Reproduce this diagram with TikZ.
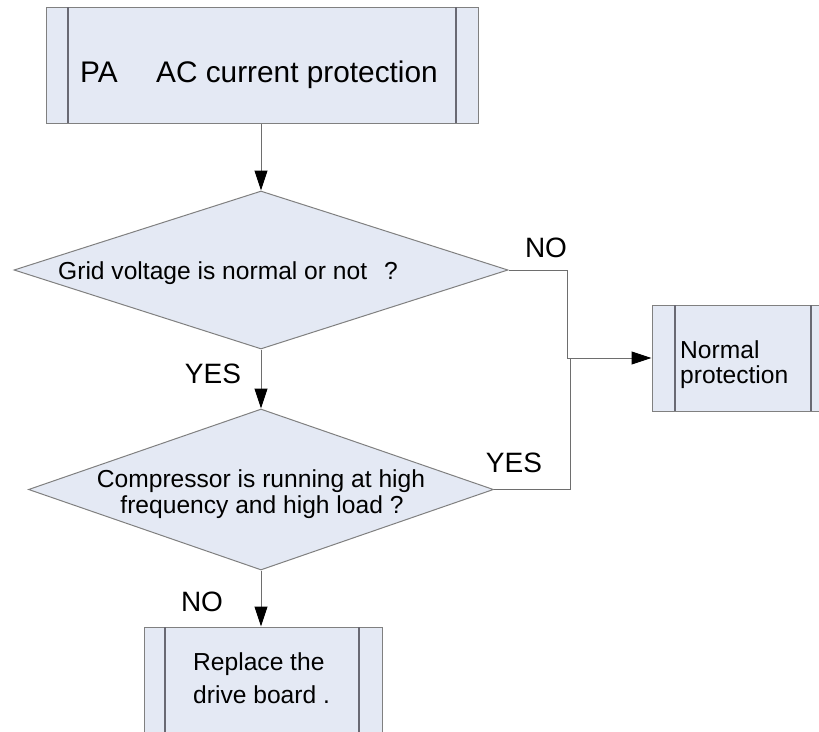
\documentclass[tikz,border=0pt]{standalone}
\usepackage{fontspec}
\setmainfont{Liberation Sans}
\usetikzlibrary{shapes.geometric,arrows.meta}
\definecolor{boxfill}{RGB}{228,233,244}
\definecolor{boxline}{RGB}{128,128,128}
\definecolor{innerline}{RGB}{105,105,115}
\definecolor{conn}{RGB}{110,110,110}
\tikzset{
  procbox/.style={draw=boxline,fill=boxfill,line width=1pt,rectangle,inner sep=0pt},
  decision/.style={draw=boxline,fill=boxfill,line width=1pt,diamond,inner sep=0pt},
  bodytext/.style={inner sep=0pt,font=\fontsize{24.6}{26}\selectfont},
  titletext/.style={inner sep=0pt,font=\fontsize{29.8}{31}\selectfont},
  lbl/.style={inner sep=0pt,font=\fontsize{28}{30}\selectfont},
  connector/.style={draw=conn,line width=1pt},
  flowarrow/.style={connector,-{Triangle[length=20pt,width=13pt,black]}},
  sideline/.style={draw=innerline,line width=1.3pt}
}
\begin{document}
\begin{tikzpicture}[x=1pt,y=-1pt]
\useasboundingbox (0,0) rectangle (819,731);
\clip (0,0) rectangle (819,731);
\fill[white] (0,0) rectangle (819,731);

% top box
\node[procbox,minimum width=432pt,minimum height=116pt] (top) at (262,65) {};
\draw[sideline] (68,7) -- (68,123) (456,7) -- (456,123);
\node[titletext,anchor=base west] (pa) at (80,82) {PA};
\node[titletext,anchor=base west] (actext) at (156,82) {AC current protection};

% decision 1
\node[decision,minimum width=494pt,minimum height=158pt] (d1) at (261,270) {};
\node[bodytext,anchor=base west] (d1t) at (58,279) {Grid voltage is normal or not\hspace{17pt}?};

% decision 2
\node[decision,minimum width=465pt,minimum height=161pt] (d2) at (261,489.5) {};
\node[bodytext,anchor=base] (d2a) at (261,487) {Compressor is running at high};
\node[bodytext,anchor=base] (d2b) at (262,513) {frequency and high load ?};

% normal protection box
\node[procbox,minimum width=181pt,minimum height=106pt] (nb) at (742.5,358) {};
\draw[sideline] (675,305) -- (675,411) (811,305) -- (811,411);
\node[bodytext,anchor=base west] (nbt1) at (680,358) {Normal};
\node[bodytext,anchor=base west] (nbt2) at (680,383) {protection};

% replace box
\node[procbox,minimum width=238pt,minimum height=116pt] (rb) at (263,685) {};
\draw[sideline] (165,627) -- (165,743) (359,627) -- (359,743);
\node[bodytext,anchor=base west] (rbt1) at (193,670) {Replace the};
\node[bodytext,anchor=base west] (rbt2) at (193,703) {drive board .};

% connectors
\draw[flowarrow] (top.south -| d1.north) -- (d1.north);
\draw[flowarrow] (d1.south) -- (d2.north);
\draw[flowarrow] (d2.south) -- (d2.south |- rb.north);
\coordinate (j1) at (567,358);
\coordinate (j2) at (570,358);
\draw[connector] (d1.east) -| (j1);
\draw[flowarrow] (j1) -- (nb.west);
\draw[connector] (d2.east) -| (j2);

% labels
\node[lbl] (lno1) at (546,248) {NO};
\node[lbl] (lyes1) at (213,374) {YES};
\node[lbl] (lyes2) at (514,463) {YES};
\node[lbl] (lno2) at (202,602) {NO};
\end{tikzpicture}
\end{document}
